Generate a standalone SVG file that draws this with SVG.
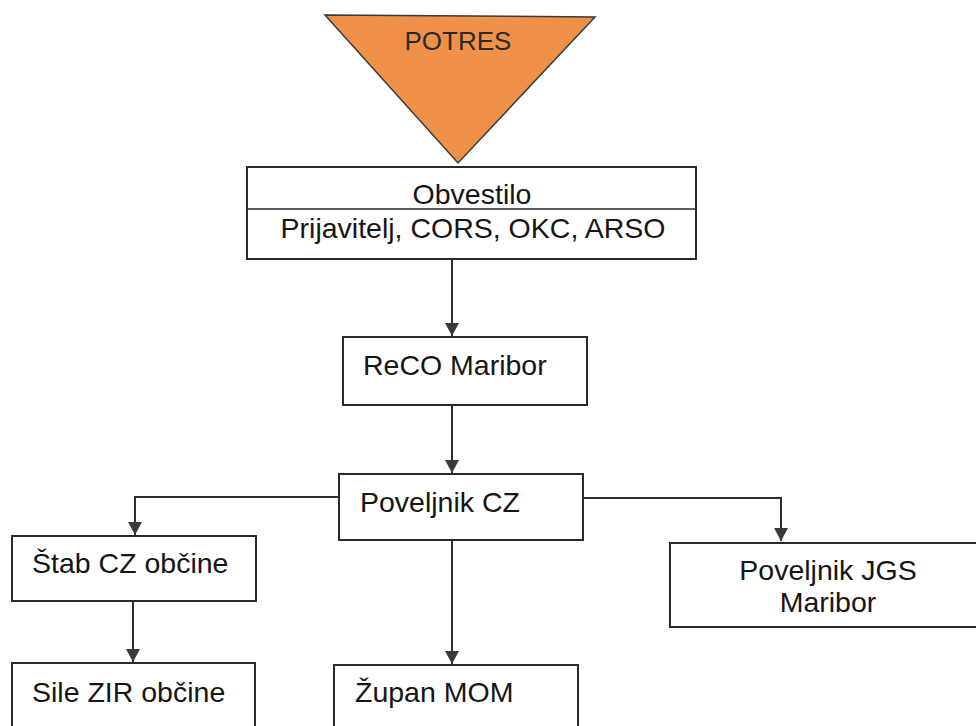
<svg xmlns="http://www.w3.org/2000/svg" width="976" height="726" viewBox="0 0 976 726">
  <style>
    .box { fill: #ffffff; stroke: #2a2a2a; stroke-width: 2; }
    .lbl { font-family: "Liberation Sans", Arial, sans-serif; font-size: 28.5px; fill: #151515; }
    .conn { fill: none; stroke: #2f2f2f; stroke-width: 2; }
  </style>
  <defs>
    <marker id="arr" markerUnits="userSpaceOnUse" markerWidth="14" markerHeight="14" refX="13" refY="7" orient="auto">
      <path d="M0,0 L13,7 L0,14 z" fill="#3a3a3a"/>
    </marker>
  </defs>
  <rect width="976" height="726" fill="#ffffff"/>

  <g id="connectors">
    <path class="conn" d="M452,259 V336" marker-end="url(#arr)"/>
    <path class="conn" d="M452,405 V473" marker-end="url(#arr)"/>
    <path class="conn" d="M339,497 H135 V535" marker-end="url(#arr)"/>
    <path class="conn" d="M583,498 H781 V541" marker-end="url(#arr)"/>
    <path class="conn" d="M452,540 V664" marker-end="url(#arr)"/>
    <path class="conn" d="M133,601 V662" marker-end="url(#arr)"/>
  </g>

  <g id="potres">
    <polygon points="325,15 595,17 458,163" fill="#F0914A" stroke="#3a3a3a" stroke-width="1.5"/>
    <text class="lbl" x="458" y="50" text-anchor="middle" style="font-size:26px;fill:#2a2a2a">POTRES</text>
  </g>

  <g id="obvestilo">
    <rect class="box" x="247" y="167" width="449" height="92"/>
    <line x1="247" y1="209" x2="696" y2="209" stroke="#2a2a2a" stroke-width="1.5"/>
    <text class="lbl" x="472" y="204" text-anchor="middle">Obvestilo</text>
    <text class="lbl" x="473" y="238" text-anchor="middle">Prijavitelj, CORS, OKC, ARSO</text>
  </g>

  <g id="reco">
    <rect class="box" x="343" y="337" width="244" height="68"/>
    <text class="lbl" x="363" y="375">ReCO Maribor</text>
  </g>

  <g id="poveljnik-cz">
    <rect class="box" x="339" y="474" width="244" height="66"/>
    <text class="lbl" x="360" y="512">Poveljnik CZ</text>
  </g>

  <g id="stab">
    <rect class="box" x="12" y="536" width="244" height="65"/>
    <text class="lbl" x="32" y="573">Štab CZ občine</text>
  </g>

  <g id="jgs">
    <rect class="box" x="670" y="543" width="320" height="84"/>
    <text class="lbl" x="828" y="580" text-anchor="middle">Poveljnik JGS</text>
    <text class="lbl" x="828" y="612" text-anchor="middle">Maribor</text>
  </g>

  <g id="sile">
    <rect class="box" x="12" y="663" width="243" height="80"/>
    <text class="lbl" x="32" y="702">Sile ZIR občine</text>
  </g>

  <g id="zupan">
    <rect class="box" x="334" y="665" width="244" height="80"/>
    <text class="lbl" x="355" y="702">Župan MOM</text>
  </g>
</svg>
